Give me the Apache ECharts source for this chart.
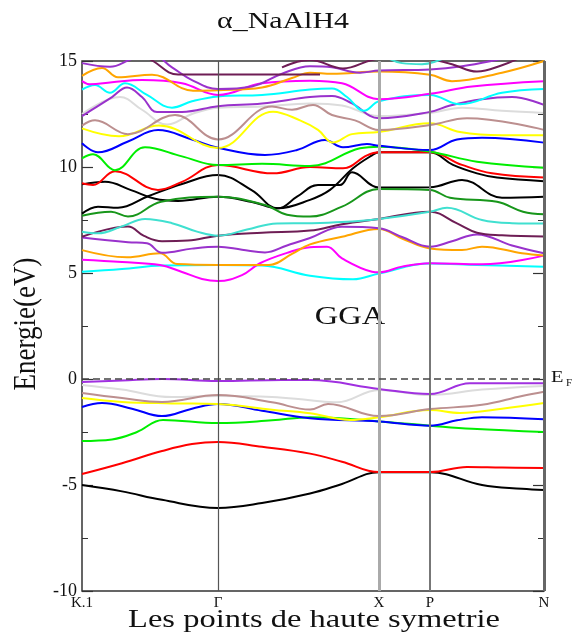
<!DOCTYPE html>
<html>
<head>
<meta charset="utf-8">
<script src="https://cdn.jsdelivr.net/npm/echarts@6/dist/echarts.min.js"></script>
<style>
html,body{margin:0;padding:0;background:#fff;}
#chart{width:578px;height:637px;}
</style>
</head>
<body>
<div id="chart"></div>
<script>
// ---- high-symmetry path (k distance) ----
const kTicks = [0, 136, 297, 348, 462];
const kLabels = ['K.1', 'Γ', 'X', 'P', 'N'];
const energyRange = [-10, 15];

// ---- valence bands [k, E(eV)] ----
const vBlack = [[0,-5.0],[40,-5.3],[80,-5.7],[136,-6.08],[180,-5.85],[228,-5.4],[260,-4.95],[297,-4.4],[348,-4.4],[400,-5.0],[440,-5.18],[462,-5.24]];
const vRed = [[0,-4.48],[40,-3.97],[80,-3.4],[110,-3.07],[136,-2.97],[180,-3.2],[228,-3.52],[260,-3.9],[297,-4.39],[348,-4.39],[385,-4.15],[420,-4.18],[462,-4.2]];
const vGreen = [[0,-2.92],[30,-2.85],[55,-2.5],[81,-1.93],[136,-2.08],[190,-1.95],[228,-1.8],[297,-2.0],[348,-2.2],[390,-2.35],[462,-2.5]];
const vBlue = [[0,-1.32],[20,-1.13],[50,-1.4],[80,-1.75],[110,-1.4],[136,-1.18],[180,-1.5],[228,-1.85],[297,-2.0],[348,-2.2],[375,-1.95],[400,-1.8],[462,-1.9]];
const vYellow = [[0,-0.9],[40,-1.08],[90,-1.15],[136,-1.18],[190,-1.45],[228,-1.62],[268,-1.93],[297,-1.8],[348,-1.46],[378,-1.6],[420,-1.4],[462,-1.13]];
const vBrown = [[0,-0.66],[40,-0.9],[80,-1.08],[136,-0.76],[190,-1.1],[228,-1.44],[246,-1.18],[297,-1.75],[348,-1.42],[400,-1.22],[440,-0.8],[462,-0.6]];
const vGray = [[0,-0.28],[40,-0.5],[90,-0.85],[136,-0.8],[190,-0.85],[228,-1.0],[255,-1.1],[297,-0.52],[348,-0.76],[400,-0.5],[462,-0.33]];
const vViolet = [[0,-0.14],[40,-0.07],[80,0.0],[136,-0.1],[200,-0.05],[228,-0.05],[297,-0.47],[348,-0.71],[388,-0.2],[462,-0.2]];

// ---- conduction bands [k, E(eV)] ----
const cAqua = [[0,5.06],[40,5.19],[80,5.35],[136,5.38],[180,5.35],[228,4.87],[271,4.7],[297,4.98],[348,5.45],[395,5.38],[462,5.3]];
const cMagenta = [[0,5.63],[40,5.52],[78,5.38],[100,5.05],[120,4.72],[136,4.62],[160,4.9],[178,5.46],[205,5.95],[228,6.22],[245,6.24],[260,5.69],[290,5.06],[297,5.03],[320,5.3],[348,5.46],[400,5.41],[462,5.82]];
const cOrange = [[0,6.08],[45,5.74],[78,5.93],[95,5.42],[136,5.38],[187,5.38],[210,5.9],[228,6.35],[260,6.71],[297,7.08],[320,6.63],[348,6.16],[380,6.08],[400,6.24],[440,5.93],[462,5.82]];
const cViolet = [[0,6.67],[46,6.45],[65,6.4],[80,5.95],[110,6.15],[136,6.24],[160,6.1],[183,5.97],[205,6.3],[228,6.65],[260,7.18],[297,7.11],[320,6.7],[348,6.24],[370,6.5],[395,6.82],[430,6.3],[462,5.93]];
const cMaroon = [[0,6.71],[46,7.19],[62,6.75],[80,6.5],[106,6.53],[136,6.76],[180,6.9],[228,7.0],[260,7.3],[297,7.55],[348,7.89],[375,7.34],[395,6.9],[420,6.78],[462,6.72]];
const cTeal = [[0,6.95],[16,6.87],[40,7.2],[63,7.55],[90,7.35],[115,6.95],[136,6.76],[165,7.05],[195,7.34],[228,7.35],[260,7.4],[297,7.55],[348,7.89],[365,8.08],[400,7.5],[430,7.35],[462,7.33]];
const cBlackLow = [[0,7.8],[16,8.13],[36,8.08],[66,8.62],[100,9.2],[136,9.62],[170,8.9],[196,8.05],[228,8.45],[248,8.92],[271,9.94],[290,10.55],[297,10.69],[348,10.69],[371,10.1],[395,9.7],[415,9.5],[462,9.33]];
const cBlackHigh = [[0,9.18],[23,9.3],[49,8.91],[73,8.5],[96,8.4],[136,8.6],[170,8.35],[196,8.05],[215,8.6],[236,9.15],[258,9.15],[270,9.75],[297,9.03],[348,9.04],[380,9.39],[420,8.55],[462,8.6]];
const cDarkGreen = [[0,7.7],[29,7.89],[46,7.66],[79,8.36],[136,8.6],[183,8.21],[205,7.75],[228,7.66],[260,8.13],[297,8.96],[348,8.92],[368,8.55],[415,8.36],[441,7.89],[462,7.77]];
const cRed = [[0,9.23],[11,9.15],[33,9.8],[76,8.92],[100,9.3],[136,10.09],[191,9.7],[228,10.0],[261,9.94],[285,10.55],[297,10.69],[348,10.69],[380,10.1],[410,9.7],[462,9.5]];
const cGreen = [[0,10.41],[11,10.6],[33,9.85],[63,10.93],[100,10.5],[136,10.09],[180,10.15],[228,10.05],[278,10.88],[297,10.96],[348,10.72],[395,10.25],[462,9.97]];
const cBlue = [[0,11.12],[16,10.69],[46,11.2],[76,11.74],[110,11.3],[136,10.91],[183,10.57],[215,10.8],[243,11.27],[261,10.93],[285,11.08],[297,11.0],[348,10.8],[375,11.3],[400,11.38],[462,11.15]];
const cYellow = [[0,11.82],[37,11.45],[77,11.96],[136,10.9],[191,12.61],[218,12.2],[236,11.75],[251,11.15],[270,11.55],[297,11.65],[348,12.06],[378,11.65],[420,11.5],[462,11.5]];
const cBrown = [[0,11.95],[13,12.2],[46,11.55],[93,12.45],[136,11.3],[190,12.85],[210,12.7],[231,12.93],[250,12.45],[273,12.2],[297,11.75],[348,11.98],[385,12.3],[462,11.75]];
const cGray = [[0,12.5],[38,13.3],[60,12.7],[85,12.0],[110,12.5],[136,12.8],[180,12.85],[228,13.0],[260,12.9],[297,12.4],[348,12.55],[380,12.8],[420,12.65],[462,12.55]];
const cViolet2 = [[0,12.4],[15,12.85],[30,13.3],[45,13.75],[60,13.3],[75,12.6],[100,12.6],[136,12.87],[180,13.0],[228,13.3],[250,13.35],[270,13.0],[297,12.3],[348,12.6],[368,12.9],[400,13.2],[430,13.3],[462,12.93]];
const cCyan2 = [[0,13.65],[13,13.87],[28,13.5],[43,13.95],[65,13.4],[90,12.8],[110,13.1],[136,13.33],[180,13.4],[228,13.65],[250,13.7],[265,13.3],[282,12.65],[297,13.1],[348,13.4],[378,12.96],[420,13.5],[462,13.68]];
const cMagenta2 = [[0,14.05],[8,13.9],[30,14.0],[60,14.1],[100,13.95],[136,13.4],[180,13.95],[228,14.07],[260,13.95],[297,13.2],[348,13.45],[390,13.8],[462,14.05]];
const cOrange2 = [[0,14.3],[20,14.67],[36,14.23],[70,14.35],[111,13.6],[136,13.62],[180,13.75],[210,14.2],[228,14.45],[250,14.4],[297,14.5],[348,14.35],[370,14.05],[420,14.45],[462,15.0]];
const cViolet3 = [[0,14.9],[28,14.73],[50,15.1],[70,15.3],[90,14.7],[110,14.1],[136,13.68],[170,13.8],[200,14.4],[228,14.75],[250,14.7],[278,14.45],[297,14.55],[348,14.6],[380,14.75],[420,15.1],[462,15.5]];
const cMaroonTopA = [[55,15.5],[71,15.0],[96,14.36],[150,14.36],[200,14.36],[238,14.36]];
const cMaroonTopB = [[200,14.7],[228,15.05],[261,14.65],[290,15.05],[320,15.3]];
const cMaroonTopC = [[340,15.2],[370,14.85],[395,14.5],[420,14.8],[440,15.2]];
const cTealTop = [[300,15.3],[320,14.9],[340,14.85],[355,15.0],[370,15.3]];

const bands = [
  [vBlack,'#000000'],[vRed,'#ff0000'],[vGreen,'#00ee00'],[vBlue,'#0000ff'],
  [vGray,'#dcdcdc'],[vYellow,'#ffff00'],[vBrown,'#bc8f8f'],[vViolet,'#a030e0'],
  [cAqua,'#00ffff'],[cMagenta,'#ff00ff'],[cOrange,'#ffa500'],[cViolet,'#9932cc'],
  [cMaroon,'#6e1d55'],[cTeal,'#40e0d0'],[cBlackLow,'#000000'],[cBlackHigh,'#000000'],
  [cDarkGreen,'#17961a'],[cRed,'#ff0000'],[cGreen,'#00ee00'],[cBlue,'#0000ff'],
  [cGray,'#dcdcdc'],[cYellow,'#ffff00'],[cBrown,'#bc8f8f'],[cViolet2,'#9932cc'],
  [cCyan2,'#00ffff'],[cMagenta2,'#ff00ff'],[cOrange2,'#ffa500'],[cViolet3,'#9932cc'],
  [cMaroonTopA,'#6e1d55'],[cMaroonTopB,'#6e1d55'],[cMaroonTopC,'#6e1d55'],[cTealTop,'#40e0d0']
];

const serif = 'Liberation Serif';
const chart = echarts.init(document.getElementById('chart'), null, {renderer:'canvas'});

const series = bands.map(([d,c]) => ({
  type:'line', data:d, showSymbol:false, smooth:0.4,
  lineStyle:{color:c, width:2}, itemStyle:{color:c}, silent:true, clip:true, z:2
}));

series.push({
  type:'line', data:[], silent:true,
  markLine:{
    symbol:'none', silent:true, animation:false, label:{show:false},
    data:[
      {xAxis:kTicks[1], lineStyle:{color:'#555', width:1.2, type:'solid'}},
      {xAxis:kTicks[2], lineStyle:{color:'#aaa', width:3, type:'solid'}},
      {xAxis:kTicks[3], lineStyle:{color:'#777', width:2, type:'solid'}},
      {xAxis:kTicks[4], lineStyle:{color:'#666', width:3, type:'solid'}},
      {yAxis:0, lineStyle:{color:'#444', width:1.6, type:[7,4]}}
    ]
  },
  z:5
});

chart.setOption({
  animation:false,
  backgroundColor:'#fff',
  grid:{left:82, right:34, top:61, bottom:46, show:true, borderColor:'#333', borderWidth:1.5, backgroundColor:'transparent'},
  xAxis:{type:'value', min:kTicks[0], max:kTicks[4],
    axisLine:{show:false}, axisTick:{show:false}, splitLine:{show:false},
    axisLabel:{customValues:kTicks, formatter:(v)=>kLabels[kTicks.indexOf(v)] ?? '',
      fontFamily:serif, fontSize:15, color:'#111', margin:5}},
  yAxis:[
    {type:'value', min:energyRange[0], max:energyRange[1], interval:5,
     axisLine:{show:false}, splitLine:{show:false},
     axisTick:{show:true, inside:true, length:11, lineStyle:{color:'#333', width:1.2}},
     minorTick:{show:true, splitNumber:2, length:6, lineStyle:{color:'#333', width:1}},
     axisLabel:{fontFamily:serif, fontSize:18, color:'#111', margin:5}},
    {type:'value', position:'right', min:energyRange[0], max:energyRange[1], interval:5,
     axisLine:{show:false}, splitLine:{show:false},
     axisTick:{show:true, inside:true, length:11, lineStyle:{color:'#333', width:1.2}},
     minorTick:{show:true, splitNumber:2, length:6, lineStyle:{color:'#333', width:1}},
     axisLabel:{show:false}}
  ],
  graphic:[
    {type:'text', x:283, y:22, scaleX:1.3, style:{text:'α_NaAlH4', font:'23px "Liberation Serif"', fill:'#111', align:'center', verticalAlign:'middle'}},
    {type:'text', x:314, y:620, scaleX:1.3, style:{text:'Les points de haute symetrie', font:'25px "Liberation Serif"', fill:'#111', align:'center', verticalAlign:'middle'}},
    {type:'text', x:26, y:324, rotation:Math.PI/2, scaleY:1.2, style:{text:'Energie(eV)', font:'27px "Liberation Serif"', fill:'#111', align:'center', verticalAlign:'middle'}},
    {type:'text', x:350, y:317, scaleX:1.25, style:{text:'GGA', font:'26px "Liberation Serif"', fill:'#111', align:'center', verticalAlign:'middle'}},
    {type:'text', x:551, y:369, scaleX:1.2, style:{text:'E', font:'17px "Liberation Serif"', fill:'#111'}},
    {type:'text', x:566, y:378, style:{text:'F', font:'11px "Liberation Serif"', fill:'#111'}}
  ],
  series:series
});
</script>
</body>
</html>
